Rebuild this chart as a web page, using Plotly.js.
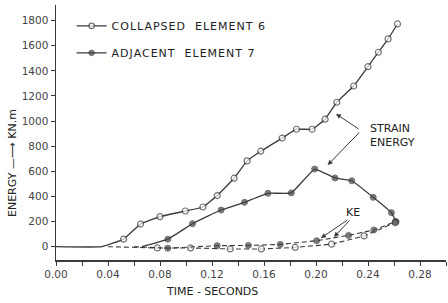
<!DOCTYPE html>
<html>
<head>
<meta charset="utf-8">
<script src="https://cdn.plot.ly/plotly-3.0.1.min.js"></script>
<style>
html,body{margin:0;padding:0;background:#fff;}
#chart{width:448px;height:303px;}
.legendtext{letter-spacing:1px;}
</style>
</head>
<body>
<div id="chart"></div>
<script>
// Strain energy, collapsed element 6 (open circles, solid)
var collapsedT = [0, 0.035, 0.052, 0.065, 0.080, 0.0995, 0.113, 0.124, 0.137, 0.147, 0.1575, 0.174, 0.185, 0.197, 0.207, 0.216, 0.229, 0.240, 0.248, 0.2555, 0.2627];
var collapsedE = [0, 0, 60, 180, 239, 284, 316, 407, 545, 683, 760, 865, 935, 935, 1015, 1150, 1279, 1433, 1548, 1654, 1773];
// Strain energy, adjacent element 7 (filled circles, solid)
var adjacentT = [0.066, 0.086, 0.105, 0.127, 0.145, 0.163, 0.181, 0.199, 0.2146, 0.2275, 0.244, 0.258, 0.2616];
var adjacentE = [0, 60, 183, 292, 353, 425, 428, 618, 547, 525, 393, 271, 199];
// Kinetic energy, collapsed element 6 (open circles, dashed)
var collapsedKET = [0.040, 0.078, 0.1035, 0.134, 0.158, 0.184, 0.212, 0.237, 0.261];
var collapsedKEE = [0, -10, -10, -18, -18, -6, 20, 86, 191];
// Kinetic energy, adjacent element 7 (filled circles, dashed)
var adjacentKET = [0.060, 0.086, 0.124, 0.148, 0.1725, 0.2005, 0.225, 0.2445, 0.261];
var adjacentKEE = [0, -12, 8, 10, 18, 48, 90, 133, 199];

var xTickVals = [0, 0.04, 0.08, 0.12, 0.16, 0.20, 0.24, 0.28];
var xTickText = ['0.00', '0.04', '0.08', '0.12', '0.16', '0.20', '0.24', '0.28'];
var yTickVals = [0, 200, 400, 600, 800, 1000, 1200, 1400, 1600, 1800];

var ink = '#3a3a3a';
function sizes(arr, skip, s) { return arr.map(function (v, i) { return i < skip ? 0 : s; }); }

var traces = [
  {
    x: collapsedT, y: collapsedE, name: 'COLLAPSED\u00a0 ELEMENT 6', legendgroup: 'a',
    mode: 'lines+markers', line: {color: ink, width: 1.3, shape: 'spline', smoothing: 0.3},
    marker: {symbol: 'circle', size: sizes(collapsedT, 2, 6), color: '#fff', line: {color: ink, width: 1.2}}
  },
  {
    x: adjacentT, y: adjacentE, name: 'ADJACENT\u00a0 ELEMENT 7', legendgroup: 'b',
    mode: 'lines+markers', line: {color: ink, width: 1.3, shape: 'spline', smoothing: 0.3},
    marker: {symbol: 'circle', size: sizes(adjacentT, 1, 6), color: '#444', line: {color: ink, width: 1}}
  },
  {
    x: collapsedKET, y: collapsedKEE, showlegend: false,
    mode: 'lines+markers', line: {color: ink, width: 1.1, dash: '5px,3px'},
    marker: {symbol: 'circle', size: sizes(collapsedKET, 1, 6), color: '#fff', line: {color: ink, width: 1.2}}
  },
  {
    x: adjacentKET, y: adjacentKEE, showlegend: false,
    mode: 'lines+markers', line: {color: ink, width: 1.1, dash: '5px,3px'},
    marker: {symbol: 'circle', size: sizes(adjacentKET, 1, 6), color: '#444', line: {color: ink, width: 1}}
  }
];

var fnt = {family: 'DejaVu Sans, sans-serif', size: 11, color: '#333'};
var layout = {
  width: 448, height: 303,
  margin: {l: 56, r: 2, t: 5, b: 43},
  paper_bgcolor: '#fff', plot_bgcolor: '#fff',
  font: fnt,
  showlegend: true,
  legend: {x: 0.04, y: 0.975, xanchor: 'left', yanchor: 'top', bgcolor: 'rgba(0,0,0,0)',
           font: {family: 'DejaVu Sans, sans-serif', size: 11, color: '#222'},
           traceorder: 'grouped', tracegroupgap: 8, itemwidth: 30},
  xaxis: {
    range: [0, 0.30], tickvals: xTickVals, ticktext: xTickText,
    showline: true, linecolor: ink, linewidth: 1.5, ticks: 'outside', ticklen: 4, tickcolor: ink,
    minor: {dtick: 0.02, tick0: 0, ticks: 'outside', ticklen: 4, tickcolor: ink},
    showgrid: false, zeroline: false, tickfont: {family: 'DejaVu Sans, sans-serif', size: 10.5, color: '#444'}
  },
  yaxis: {
    range: [-106, 1924], tickvals: yTickVals,
    showline: true, linecolor: ink, linewidth: 1.5, ticks: 'outside', ticklen: 4, tickcolor: ink,
    showgrid: false, zeroline: false, tickfont: {family: 'DejaVu Sans, sans-serif', size: 10.5, color: '#444'}
  },
  annotations: [
    {xref: 'paper', yref: 'paper', x: 0.40, y: -0.125, xanchor: 'center', yanchor: 'middle',
     text: 'TIME - SECONDS', showarrow: false,
     font: {family: 'DejaVu Sans, sans-serif', size: 11, color: '#222'}},
    {xref: 'paper', yref: 'paper', x: -0.113, y: 0.38, xanchor: 'center', yanchor: 'middle',
     text: 'ENERGY \u2014\u27F6 KN.m', textangle: -90, showarrow: false,
     font: {family: 'DejaVu Sans, sans-serif', size: 11, color: '#222'}},
    {x: 0.240, y: 885, xanchor: 'left', align: 'left', text: 'STRAIN<br>ENERGY', showarrow: false,
     font: {family: 'DejaVu Sans, sans-serif', size: 11, color: '#222'}},
    {x: 0.2154, y: 1057, text: '', showarrow: true, arrowhead: 2, arrowsize: 1, arrowwidth: 1, arrowcolor: ink, ax: 24, ay: 16},
    {x: 0.209, y: 650, text: '', showarrow: true, arrowhead: 2, arrowsize: 1, arrowwidth: 1, arrowcolor: ink, ax: 33, ay: -34},
    {x: 0.2285, y: 276, text: 'KE', showarrow: false,
     font: {family: 'DejaVu Sans, sans-serif', size: 11, color: '#222'}},
    {x: 0.2038, y: 69, text: '', showarrow: true, arrowhead: 2, arrowsize: 1, arrowwidth: 1, arrowcolor: ink, ax: 28, ay: -19},
    {x: 0.2138, y: 77, text: '', showarrow: true, arrowhead: 2, arrowsize: 1, arrowwidth: 1, arrowcolor: ink, ax: 17, ay: -18}
  ]
};

Plotly.newPlot('chart', traces, layout, {displayModeBar: false, staticPlot: true});
</script>
</body>
</html>
